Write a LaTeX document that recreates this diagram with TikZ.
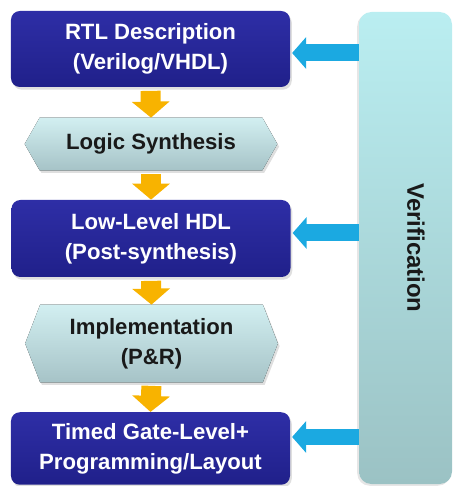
\documentclass[tikz,border=0pt]{standalone}
\usepackage{fontspec}
\setmainfont{Liberation Sans}
\usepackage{tikz}
\usetikzlibrary{arrows.meta,positioning,calc,backgrounds,shadows}
\definecolor{flowtop}{HTML}{2E2EA6}
\definecolor{flowbot}{HTML}{20208A}
\definecolor{hextop}{HTML}{D2EFF1}
\definecolor{hexbot}{HTML}{A6C3C7}
\definecolor{vertop}{HTML}{BAEEF1}
\definecolor{verbot}{HTML}{9BC2C4}
\definecolor{flowyellow}{HTML}{F8B300}
\definecolor{flowcyan}{HTML}{1BA9E1}

\begin{document}
\begin{tikzpicture}[
    stage/.style={rounded corners=5pt, top color=flowtop, bottom color=flowbot,
                  text=white, minimum width=5.58cm, minimum height=1.52cm,
                  font=\bfseries\fontsize{12.6}{17}\selectfont, align=center,
                  drop shadow={shadow xshift=1pt, shadow yshift=-1.5pt, opacity=0.25}},
    hexnode/.style={minimum width=4.44cm, minimum height=1.04cm, text=black!90,
                    font=\bfseries\fontsize{12.6}{17}\selectfont, align=center},
    hexfill/.style={top color=hextop, bottom color=hexbot,
                    drop shadow={shadow xshift=1pt, shadow yshift=-1.5pt, opacity=0.25}},
    yarr/.style={-{Triangle[length=0.32cm, width=0.74cm]}, line width=0.4cm,
                 color=flowyellow, shorten <=2pt},
    barr/.style={-{Triangle[length=0.28cm, width=0.62cm]}, line width=0.34cm,
                 color=flowcyan, shorten >=1pt}
]
  \useasboundingbox (0,0) rectangle (9.12,9.72);

  % verification panel
  \node[rounded corners=7pt, top color=vertop, bottom color=verbot,
        minimum width=1.86cm, minimum height=9.44cm,
        drop shadow={shadow xshift=-1pt, shadow yshift=-1pt, opacity=0.2}] (ver) at (8.11,4.76) {};
  \node[rotate=-90, font=\bfseries\fontsize{13.6}{16}\selectfont, text=black!90] (vertxt) at (8.32,4.76) {Verification};

  % flow
  \node[stage] (rtl) at (3.01,8.74) {RTL Description\\(Verilog/VHDL)};
  \node[hexnode] (syn) at (3.02,6.84) {Logic Synthesis};
  \node[stage, minimum height=1.54cm] (hdl) at (3.02,4.95) {Low-Level HDL\\(Post-synthesis)};
  \node[hexnode, minimum height=1.54cm] (impl) at (3.03,2.85) {Implementation\\(P\&R)};
  \node[stage, minimum height=1.45cm] (gate) at (3.01,0.75) {Timed Gate-Level+\\Programming/Layout};

  \begin{pgfonlayer}{background}
    \fill[hexfill] (syn.north west) -- (syn.north east) -- ([xshift=0.3cm]syn.east)
      -- (syn.south east) -- (syn.south west) -- ([xshift=-0.3cm]syn.west) -- cycle;
    \fill[hexfill] (impl.north west) -- (impl.north east) -- ([xshift=0.3cm]impl.east)
      -- (impl.south east) -- (impl.south west) -- ([xshift=-0.3cm]impl.west) -- cycle;
  \end{pgfonlayer}

  \draw[yarr] (rtl.south) -- (syn.north);
  \draw[yarr] (syn.south) -- (hdl.north);
  \draw[yarr] (hdl.south) -- (impl.north);
  \draw[yarr] (impl.south) -- (gate.north);

  \coordinate (v1) at ([yshift=-0.08cm]rtl.east);
  \coordinate (v2) at ([yshift=0.11cm]hdl.east);
  \coordinate (v3) at ([yshift=0.23cm]gate.east);
  \draw[barr] (ver.west |- v1) -- (v1);
  \draw[barr] (ver.west |- v2) -- (v2);
  \draw[barr] (ver.west |- v3) -- (v3);
\end{tikzpicture}
\end{document}
